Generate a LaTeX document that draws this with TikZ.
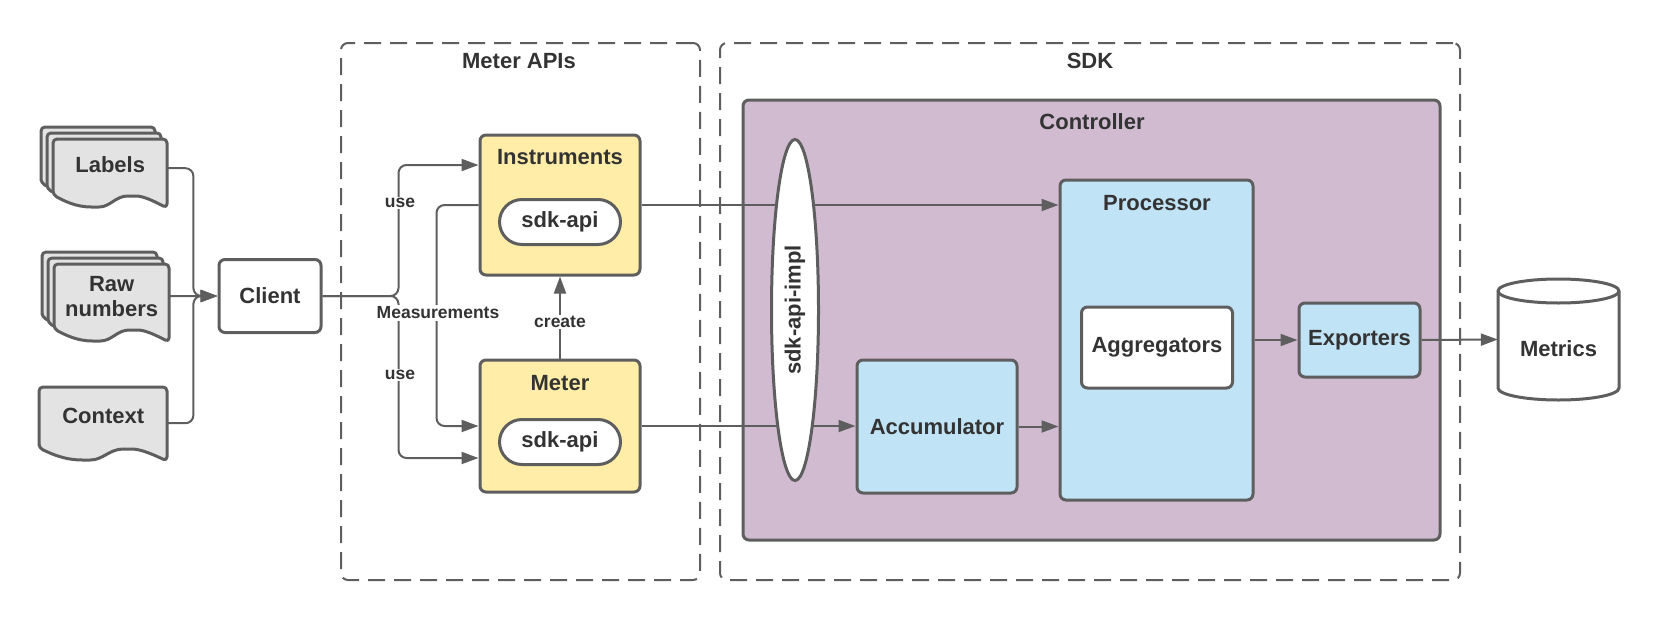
\documentclass[tikz,border=0pt]{standalone}
\usepackage{fontspec}
\setmainfont{Liberation Sans}
\usetikzlibrary{arrows.meta,shapes.geometric,shapes.misc}
\definecolor{linec}{HTML}{5E5E5E}
\definecolor{textc}{HTML}{333333}
\definecolor{docfill}{HTML}{E3E3E3}
\definecolor{yellowf}{HTML}{FFEDA8}
\definecolor{purplef}{HTML}{D1BBD1}
\definecolor{bluef}{HTML}{C1E3F6}
\newcommand\drawdoc[4]{%
  \draw[docsheet] (#1,{#2+#4-13}) -- (#1,#2) -- ({#1+#3},#2) -- ({#1+#3},{#2+#4})
    .. controls ({#1+0.85*#3},{#2+#4-9}) and ({#1+0.78*#3},{#2+#4-12}) .. ({#1+0.69*#3},{#2+#4-12})
    .. controls ({#1+0.55*#3},{#2+#4-12}) and ({#1+0.5*#3},{#2+#4-1}) .. ({#1+0.37*#3},{#2+#4-1})
    .. controls ({#1+0.2*#3},{#2+#4-1}) and ({#1+0.1*#3},{#2+#4-7}) .. (#1,{#2+#4-13}) -- cycle;}
\begin{document}
\begin{tikzpicture}[x=1pt,y=-1pt,
  font=\fontsize{22}{25}\selectfont\bfseries, text=textc,
  box/.style={draw=linec, line width=3pt, rounded corners=6pt, inner sep=0pt, align=center},
  docsheet/.style={draw=linec, line width=3pt, fill=docfill, rounded corners=4pt, line join=round},
  doctext/.style={inner sep=0pt, align=center, anchor=north west},
  dashbox/.style={draw=linec, line width=2pt, dash pattern=on 17pt off 9pt, rounded corners=7pt, inner sep=0pt},
  pill/.style={draw=linec, line width=3pt, fill=white, rounded rectangle, inner sep=0pt, minimum width=121pt, minimum height=45pt},
  conn/.style={draw=linec, line width=2pt, rounded corners=8pt, -{Triangle[length=17pt,width=12pt]}},
  plain/.style={draw=linec, line width=2pt, rounded corners=8pt},
  lbl/.style={font=\fontsize{17.5}{20}\selectfont\bfseries, fill=white, inner sep=1.5pt},
  title/.style={inner sep=0pt}]
\useasboundingbox (0,0) rectangle (1660,621);

% dashed groups
\node[dashbox, minimum width=359pt, minimum height=537pt] (meterapis) at (520.5,311.5) {};
\node[title] (meterapist) at (519,61) {Meter APIs};
\node[dashbox, minimum width=740pt, minimum height=537pt] (sdk) at (1090,311.5) {};
\node[title] (sdkt) at (1090,61) {SDK};

% controller
\node[box, fill=purplef, minimum width=697pt, minimum height=440pt] (controller) at (1091.5,320) {};
\node[title] (controllert) at (1092,122) {Controller};

% documents
\drawdoc{41}{127}{114}{69}
\drawdoc{47}{133}{114}{69}
\drawdoc{53}{139}{114}{69}
\node[doctext, minimum width=114pt, minimum height=58pt, text depth=8pt] (labels) at (53,139) {Labels};
\drawdoc{42}{252}{115}{78}
\drawdoc{48}{258}{115}{78}
\drawdoc{54}{264}{115}{78}
\node[doctext, minimum width=115pt, minimum height=64pt] (raw) at (54,264) {Raw\\numbers};
\drawdoc{39}{387}{128}{74}
\node[doctext, minimum width=128pt, minimum height=72pt, text depth=14pt] (context) at (39,387) {Context};

% client
\node[box, fill=white, minimum width=102pt, minimum height=73pt] (client) at (270,296) {Client};

% meter apis boxes
\node[box, fill=yellowf, minimum width=160pt, minimum height=140pt] (instr) at (560,205) {};
\node[title] (instrt) at (560,157) {Instruments};
\node[pill] (instrapi) at (560,222) {sdk-api};
\node[box, fill=yellowf, minimum width=160pt, minimum height=132pt] (meter) at (560,426) {};
\node[title] (metert) at (560,383) {Meter};
\node[pill] (meterapi) at (560,442) {sdk-api};

% sdk boxes
\node[box, fill=bluef, minimum width=160pt, minimum height=133pt] (acc) at (937,426.5) {Accumulator};
\node[box, fill=bluef, minimum width=193pt, minimum height=320pt] (proc) at (1156.5,340) {};
\node[title] (proct) at (1157,203) {Processor};
\node[box, fill=white, minimum width=151pt, minimum height=81pt] (aggr) at (1157,347.5) {Aggregators};
\node[box, fill=bluef, minimum width=121pt, minimum height=74pt] (exp) at (1359.5,340) {Exporters};

% metrics cylinder
\draw[draw=linec, line width=3pt, fill=white, line join=round]
  (1498,291) -- (1498,388) arc[start angle=180, end angle=360, x radius=60.5pt, y radius=12pt]
  -- (1619,291) arc[start angle=0, end angle=180, x radius=60.5pt, y radius=12pt] -- cycle;
\draw[draw=linec, line width=3pt] (1498,291) arc[start angle=180, end angle=360, x radius=60.5pt, y radius=12pt];
\node[inner sep=0pt, minimum width=121pt, minimum height=121pt, text height=34pt] (metrics) at (1558.5,339.5) {Metrics};

% connectors: inputs to client
\draw[conn] (labels.east) -- ++(26,0) |- (client.west);
\draw[conn] (context.east) -- ++(26,0) |- (client.west);
\draw[conn] (raw.east) -- (client.west);

% client to instruments / meter
\draw[conn] (client.east) -| ([xshift=-80pt,yshift=40pt]instr.west) -- ([yshift=40pt]instr.west);
\draw[conn] (client.east) -| ([xshift=-80pt,yshift=-32pt]meter.west) -- ([yshift=-32pt]meter.west);
\draw[conn] (instr.west) -- ++(-42,0) |- (meter.west);
\draw[conn] (meter.north) -- (instr.south);

% to sdk
\draw[conn] (instr.east) -- (instr.east -| proc.west);
\draw[conn] (meter.east) -- (meter.east -| acc.west);
\draw[conn] (acc.east) -- (acc.east -| proc.west);
\draw[conn] (proc.east) -- (exp.west);
\draw[conn] (exp.east) -- (metrics.west);

% sdk-api-impl
\node[draw=linec, line width=3pt, fill=white, ellipse, inner sep=0pt, rotate=90,
  minimum width=341pt, minimum height=47pt] (impl) at (795,310) {sdk-api-impl};

% labels
\node[lbl] (use1) at (400,203) {use};
\node[lbl] (use2) at (400,375) {use};
\node[lbl] (meas) at (438,313) {Measurements};
\node[lbl] (create) at (560,322) {create};
\end{tikzpicture}
\end{document}
